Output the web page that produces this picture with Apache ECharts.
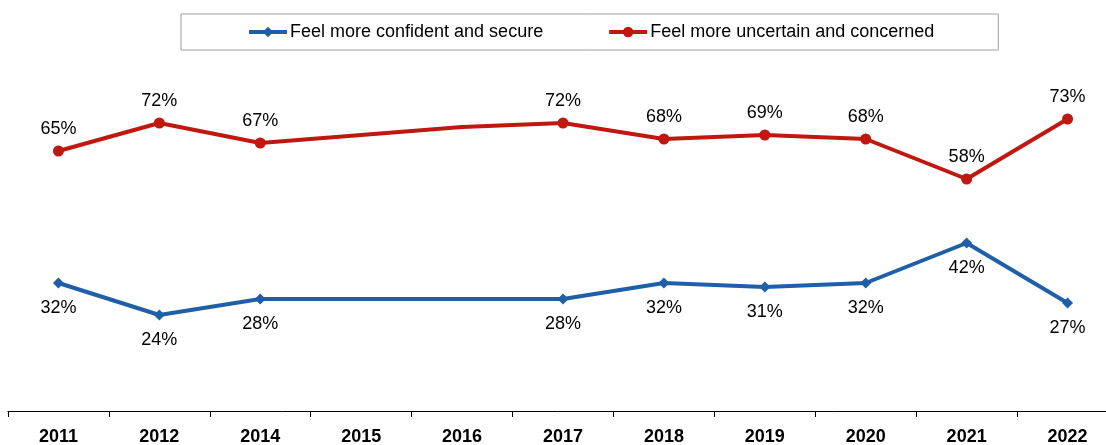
<!DOCTYPE html>
<html>
<head>
<meta charset="utf-8">
<script src="https://cdn.jsdelivr.net/npm/echarts@6/dist/echarts.min.js"></script>
<style>
  html, body { margin: 0; padding: 0; background: #fff; }
  #chart { width: 1106px; height: 445px; }
</style>
</head>
<body>
<div id="chart"></div>
<script>
// Survey years on the category axis
const years = ['2011', '2012', '2014', '2015', '2016', '2017', '2018', '2019', '2020', '2021', '2022'];

// Share of respondents (%) per year
const confident = [32, 24, 28, 28, 28, 28, 32, 31, 32, 42, 27];
const uncertain = [65, 72, 67, 69, 71, 72, 68, 69, 68, 58, 73];

// Years shown without a marker or a value label
const unmarkedYears = ['2015', '2016'];

const FONT = '"Liberation Sans", Arial, sans-serif';
const BLUE = '#1f5fa8';
const RED = '#c0170f';

function buildData(values) {
  return values.map((v, i) => {
    if (unmarkedYears.includes(years[i])) {
      return { value: v, symbol: 'none', label: { show: false } };
    }
    return { value: v };
  });
}

function series(name, values, color, symbol, pos, dist) {
  return {
    name: name,
    type: 'line',
    data: buildData(values),
    symbol: symbol,
    symbolSize: 11,
    lineStyle: { color: color, width: 4 },
    itemStyle: { color: color },
    label: {
      show: true,
      position: pos,
      distance: dist,
      formatter: '{c}%',
      color: '#000',
      fontFamily: FONT,
      fontSize: 18
    },
    emphasis: { disabled: true },
    animation: false
  };
}

const chart = echarts.init(document.getElementById('chart'), null, { renderer: 'canvas' });
chart.setOption({
  animation: false,
  legend: {
    left: 181,
    top: 14,
    padding: [9, 64, 9, 66],
    borderColor: '#a0a0a0',
    borderWidth: 1,
    itemGap: 64,
    itemWidth: 38,
    itemHeight: 13,
    lineStyle: { width: 4 },
    textStyle: { fontFamily: FONT, fontSize: 18, color: '#000', padding: [0, 0, 0, -2] },
    data: ['Feel more confident and secure', 'Feel more uncertain and concerned']
  },
  grid: { left: 8, width: 1110, top: 11, height: 400, outerBoundsMode: 'none', containLabel: false },
  xAxis: {
    type: 'category',
    data: years,
    boundaryGap: true,
    axisLine: { lineStyle: { color: '#000', width: 1 } },
    axisTick: { show: true, length: 6, lineStyle: { color: '#000' } },
    axisLabel: {
      color: '#000',
      fontFamily: FONT,
      fontSize: 18,
      fontWeight: 'bold',
      margin: 17
    }
  },
  yAxis: {
    type: 'value',
    min: 0,
    max: 100,
    show: false
  },
  series: [
    series('Feel more confident and secure', confident, BLUE, 'diamond', 'bottom', 11),
    series('Feel more uncertain and concerned', uncertain, RED, 'circle', 'top', 7)
  ]
});
</script>
</body>
</html>
